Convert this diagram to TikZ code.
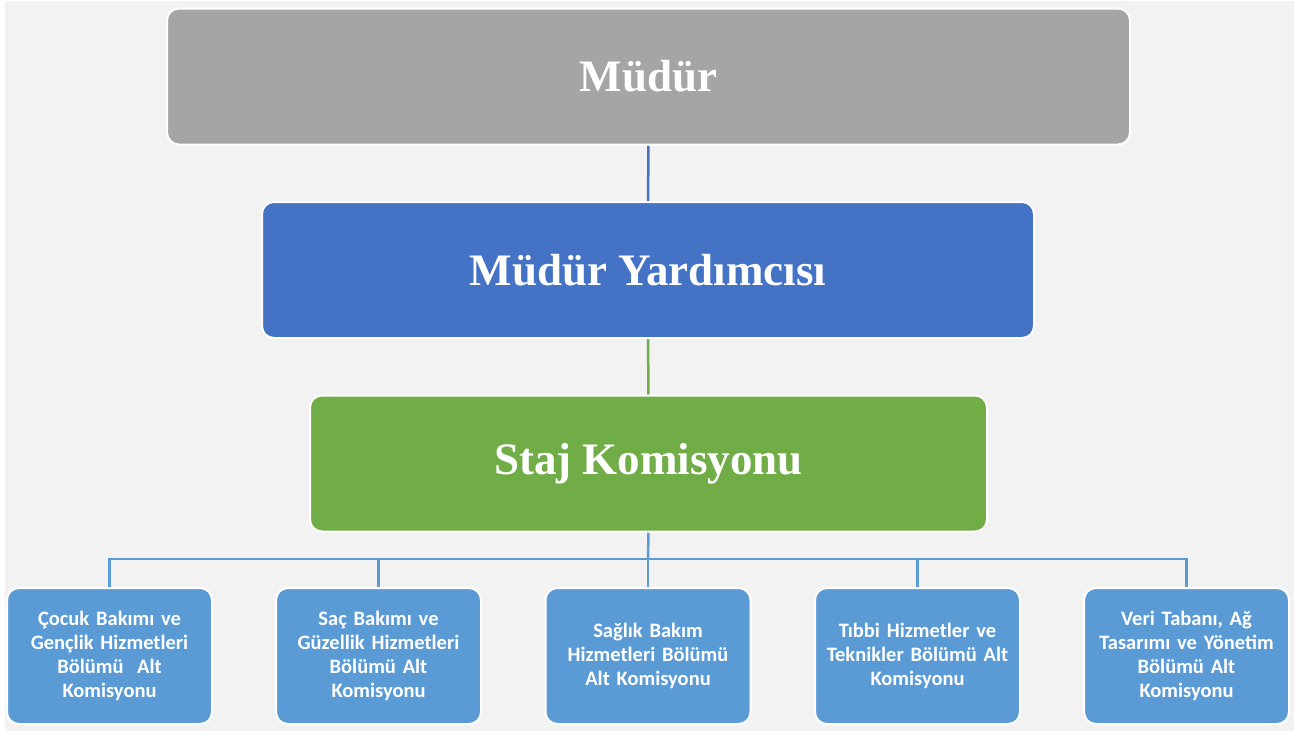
\documentclass[tikz,border=0pt]{standalone}
\usepackage{fontspec}
\setmainfont{Liberation Serif}
\newfontfamily\calibri{Carlito}
\usetikzlibrary{positioning,backgrounds}
\definecolor{pagegray}{HTML}{F2F2F2}
\definecolor{headgray}{HTML}{A5A5A5}
\definecolor{deputyblue}{HTML}{4472C4}
\definecolor{staffgreen}{HTML}{70AD47}
\definecolor{unitblue}{HTML}{5B9BD5}

\begin{document}
\begin{tikzpicture}[x=1pt,y=-1pt,
  topbox/.style={draw=white,line width=2pt,rounded corners=12pt,text=white,
    font=\bfseries\fontsize{45}{52}\selectfont,minimum height=136pt},
  unitbox/.style={draw=white,line width=2pt,rounded corners=12pt,fill=unitblue,text=white,
    font=\calibri\bfseries\fontsize{20.5}{24}\selectfont,align=center,
    minimum width=205pt,minimum height=136pt,text width=195pt}]
\useasboundingbox (0,0) rectangle (1294,731);
\node[topbox,fill=headgray,minimum width=963pt] (mudur) at (648.5,76.5) {Müdür};
\node[topbox,fill=deputyblue,minimum width=772pt] (yard) at (648,270) {Müdür Yardımcısı};
\node[topbox,fill=staffgreen,minimum width=677pt] (staj) at (648.5,463.5) {Staj Komisyonu};
\node[unitbox] (cocuk) at (109.5,656) {Çocuk Bakımı ve\\Gençlik Hizmetleri\\Bölümü~ Alt\\Komisyonu};
\node[unitbox] (sac) at (378.5,656) {Saç Bakımı ve\\Güzellik Hizmetleri\\Bölümü Alt\\Komisyonu};
\node[unitbox] (saglik) at (648,656) {Sağlık Bakım\\Hizmetleri Bölümü\\Alt Komisyonu};
\node[unitbox] (tibbi) at (917.5,656) {Tıbbi Hizmetler ve\\Teknikler Bölümü Alt\\Komisyonu};
\node[unitbox] (veri) at (1186.5,656) {Veri Tabanı, Ağ\\Tasarımı ve Yönetim\\Bölümü Alt\\Komisyonu};
\coordinate (bus) at (648,559);
\begin{scope}[on background layer]
\fill[pagegray] (5,1) rectangle (1294,731);
\path[line width=2.5pt]
(mudur) edge[deputyblue] (yard)
(yard) edge[staffgreen] (staj);
\path[line width=2.5pt,draw=unitblue]
(staj.south) edge (bus)
(bus) edge[to path={-| (\tikztotarget)}] (cocuk.north)
(bus) edge[to path={-| (\tikztotarget)}] (sac.north)
(bus) edge (saglik.north)
(bus) edge[to path={-| (\tikztotarget)}] (tibbi.north)
(bus) edge[to path={-| (\tikztotarget)}] (veri.north);
\end{scope}
\end{tikzpicture}
\end{document}
